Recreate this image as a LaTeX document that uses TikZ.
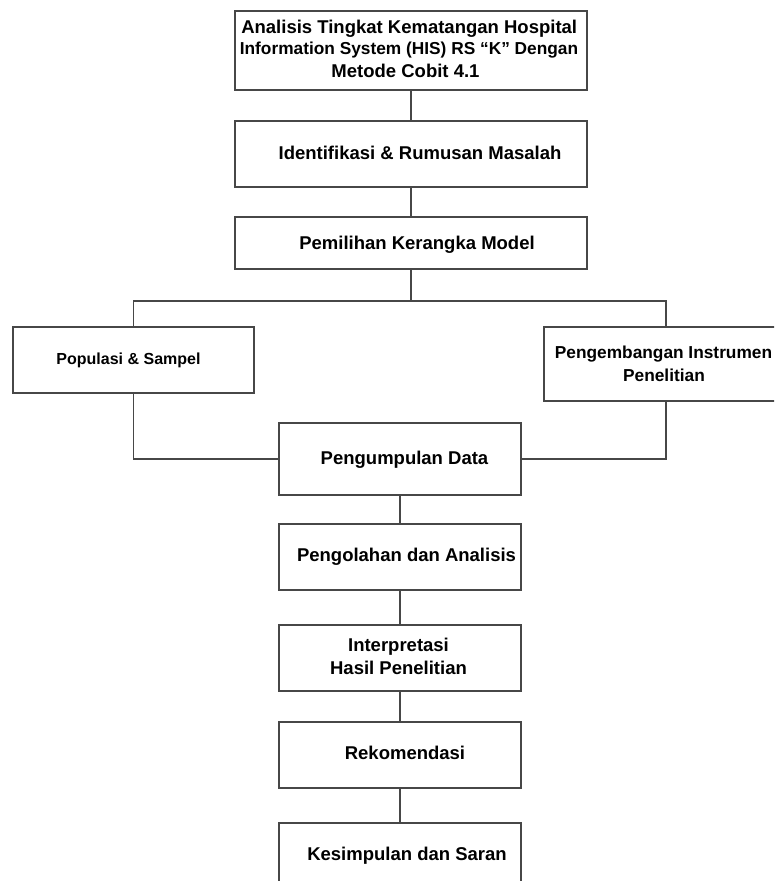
\documentclass[tikz,border=0pt]{standalone}
\usepackage{fontspec}
\setmainfont{Liberation Sans}
\begin{document}
\begin{tikzpicture}[x=1pt,y=-1pt,
  box/.style={draw=black!72, line width=1.3pt, rectangle, inner sep=0pt, fill=white},
  conn/.style={draw=black!72, line width=1.3pt},
  txt/.style={anchor=base, inner sep=0pt, font=\bfseries\fontsize{18.5}{22}\selectfont},
  txtb/.style={anchor=base, inner sep=0pt, font=\bfseries\fontsize{17.3}{21}\selectfont},
  txts/.style={anchor=base, inner sep=0pt, font=\bfseries\fontsize{16}{19}\selectfont}]
\useasboundingbox (0,0) rectangle (774,881);
\clip (0,0) rectangle (774,881);
% boxes
\node[box, minimum width=352pt, minimum height=79pt] (b1) at (411,50.5) {};
\node[box, minimum width=352pt, minimum height=66pt] (b2) at (411,154) {};
\node[box, minimum width=352pt, minimum height=52pt] (b3) at (411,243) {};
\node[box, minimum width=241pt, minimum height=66pt] (b4) at (133.5,360) {};
\node[box, minimum width=244pt, minimum height=74pt] (b5) at (666,364) {};
\node[box, minimum width=242pt, minimum height=72pt] (b6) at (400,459) {};
\node[box, minimum width=242pt, minimum height=66pt] (b7) at (400,557) {};
\node[box, minimum width=242pt, minimum height=66pt] (b8) at (400,658) {};
\node[box, minimum width=242pt, minimum height=66pt] (b9) at (400,755) {};
\node[box, minimum width=242pt, minimum height=66pt] (b10) at (400,856) {};
\coordinate (j) at (411,301);
% connectors
\draw[conn] (b1.south) -- (b2.north);
\draw[conn] (b2.south) -- (b3.north);
\draw[conn] (b3.south) -- (j);
\draw[conn] (b4.north) |- (j) -| (b5.north);
\draw[conn] (b4.south) |- (b6.west);
\draw[conn] (b5.south) |- (b6.east);
\draw[conn] (b6.south) -- (b7.north);
\draw[conn] (b7.south) -- (b8.north);
\draw[conn] (b8.south) -- (b9.north);
\draw[conn] (b9.south) -- (b10.north);
% texts
\node[txt] (t1a) at (409.2,33.7) {Analisis Tingkat Kematangan Hospital};
\node[txtb] (t1b) at (409,54.3) {Information System (HIS) RS “K” Dengan};
\node[txt] (t1c) at (405.5,77.3) {Metode Cobit 4.1};
\node[txt] (t2) at (420,159.3) {Identifikasi \& Rumusan Masalah};
\node[txt] (t3) at (417,249) {Pemilihan Kerangka Model};
\node[txts] (t4) at (128.5,364) {Populasi \& Sampel};
\node[txtb] (t5a) at (663.5,358) {Pengembangan Instrumen};
\node[txtb] (t5b) at (664,381) {Penelitian};
\node[txt] (t6) at (404.5,464) {Pengumpulan Data};
\node[txt] (t7) at (406.5,561.7) {Pengolahan dan Analisis};
\node[txt] (t8a) at (398.5,651.7) {Interpretasi};
\node[txt] (t8b) at (398.5,674.3) {Hasil Penelitian};
\node[txt] (t9) at (405,759) {Rekomendasi};
\node[txt] (t10) at (407,860.7) {Kesimpulan dan Saran};
\end{tikzpicture}
\end{document}
